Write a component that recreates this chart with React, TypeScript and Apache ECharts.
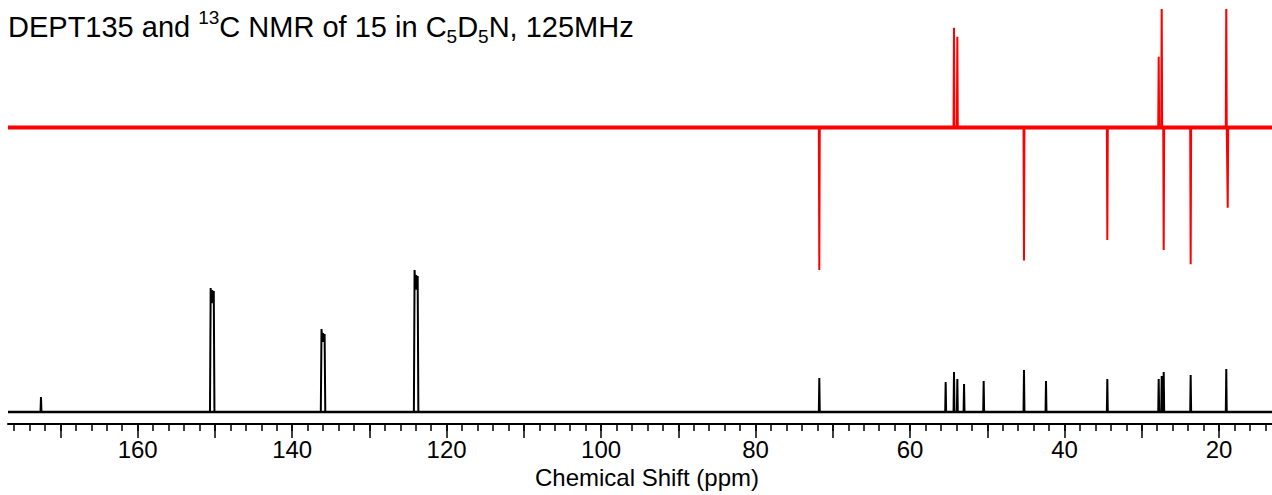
import React, { useEffect, useRef } from "react";
import * as echarts from "echarts";

// Axis range (ppm), reversed as in NMR convention
const PPM_LEFT = 176.79;
const PPM_RIGHT = 13.14;

// Tick positions / labels
const LABEL_TICKS = [20, 40, 60, 80, 100, 120, 140, 160];
const MAJOR_TICKS = [20, 30, 40, 50, 60, 70, 80, 90, 100, 110, 120, 130, 140, 150, 160, 170];
const MINOR_TICKS = Array.from({ length: 82 }, (_, i) => 14 + i * 2);

// 13C spectrum (black) – single lines
const C13_PPM = [172.52, 71.75, 55.39, 54.31, 53.88, 53.01, 50.47, 45.25, 42.4, 34.46, 27.81, 27.42, 27.16, 23.67, 19.06];
const C13_INT = [15, 34, 30, 40, 33, 28, 31, 42, 31, 33, 33, 36, 40, 37, 43];

// solvent (C5D5N) triplets in the 13C spectrum
const SOLVENT_PPM = [150.35, 136.0, 123.95];
const SOLVENT_INT = [
  [124, 122, 121],
  [83, 79, 78],
  [142, 137, 136],
];

// DEPT135 spectrum (red): CH/CH3 up, CH2 down
const DEPT_PPM = [71.75, 54.31, 53.88, 45.25, 34.46, 27.81, 27.42, 27.16, 23.67, 19.06, 18.87];
const DEPT_INT = [-142.5, 99.8, 90.8, -133, -112.5, 70.8, 125, -122.5, -136.8, 125, -80.2];

// vertical offsets of the two traces (plot units)
const C13_BASE = 12;
const DEPT_BASE = 296.5;

const LINE_HALF = 0.06; // half width of a line (ppm)
const TRIPLET_J = 0.2; // C-D splitting (ppm)

type Pt = [number, number];

function singleShape(p: number, h: number): Pt[] {
  return [
    [p + LINE_HALF, 0],
    [p, h],
    [p - LINE_HALF, 0],
  ];
}

function tripletShape(p: number, hs: number[]): Pt[] {
  const v = Math.min(...hs) * 0.9;
  return [
    [p + TRIPLET_J + LINE_HALF * 1.5, 0],
    [p + TRIPLET_J, hs[0]],
    [p + TRIPLET_J / 2, v],
    [p, hs[1]],
    [p - TRIPLET_J / 2, v],
    [p - TRIPLET_J, hs[2]],
    [p - TRIPLET_J - LINE_HALF * 1.5, 0],
  ];
}

function buildTrace(shapes: Pt[][], base: number): Pt[] {
  const sorted = shapes.slice().sort((a, b) => b[0][0] - a[0][0]);
  const out: Pt[] = [[PPM_LEFT, base]];
  sorted.forEach((s) => s.forEach(([x, y]) => out.push([x, y + base])));
  out.push([PPM_RIGHT, base]);
  return out;
}

export default function App() {
  const ref = useRef<HTMLDivElement>(null);

  useEffect(() => {
    if (!ref.current) return;
    const chart = echarts.init(ref.current, null, { renderer: "svg" });

    const c13Shapes: Pt[][] = [
      ...C13_PPM.map((p, i) => singleShape(p, C13_INT[i])),
      ...SOLVENT_PPM.map((p, i) => tripletShape(p, SOLVENT_INT[i])),
    ];
    const deptShapes: Pt[][] = DEPT_PPM.map((p, i) => singleShape(p, DEPT_INT[i]));

    const c13Data = buildTrace(c13Shapes, C13_BASE);
    const deptData = buildTrace(deptShapes, DEPT_BASE);

    const font = "Liberation Sans, Arial, sans-serif";

    chart.setOption({
      animation: false,
      backgroundColor: "#ffffff",
      title: {
        left: 8,
        top: 8,
        padding: 0,
        text:
          "{a|DEPT135 and }{sup|13}{a|C NMR of 15 in C}{sub|5}{a|D}{sub|5}{a|N, 125MHz}",
        textStyle: {
          fontFamily: font,
          fontWeight: "normal",
          color: "#000",
          rich: {
            a: { fontSize: 29, lineHeight: 38, verticalAlign: "middle", fontFamily: font, color: "#000" },
            sup: { fontSize: 19, lineHeight: 19, verticalAlign: "top", fontFamily: font, color: "#000" },
            sub: { fontSize: 19, lineHeight: 19, verticalAlign: "bottom", fontFamily: font, color: "#000" },
          },
        },
      },
      grid: { left: 8, right: 0, top: 10, bottom: 71, containLabel: false },
      xAxis: [
        {
          type: "value",
          min: PPM_RIGHT,
          max: PPM_LEFT,
          inverse: true,
          position: "bottom",
          axisLine: { show: true, lineStyle: { color: "#000", width: 2 } },
          axisTick: {
            show: true,
            customValues: MAJOR_TICKS,
            length: 14,
            lineStyle: { color: "#000", width: 1.5 },
          },
          axisLabel: {
            show: true,
            customValues: LABEL_TICKS,
            fontSize: 24,
            fontFamily: font,
            color: "#000",
            margin: 13,
          },
          splitLine: { show: false },
          name: "Chemical Shift (ppm)",
          nameLocation: "middle",
          nameGap: 40,
          nameTextStyle: {
            fontSize: 24,
            fontFamily: font,
            color: "#000",
            padding: [0, 0, 0, 14],
          },
        },
        {
          type: "value",
          min: PPM_RIGHT,
          max: PPM_LEFT,
          inverse: true,
          position: "bottom",
          axisLine: { show: false },
          axisTick: {
            show: true,
            customValues: MINOR_TICKS,
            length: 7,
            lineStyle: { color: "#000", width: 1.5 },
          },
          axisLabel: { show: false },
          splitLine: { show: false },
        },
      ],
      yAxis: {
        type: "value",
        min: 0,
        max: 414,
        show: false,
        splitLine: { show: false },
      },
      series: [
        {
          name: "DEPT135 baseline",
          type: "line",
          data: [
            [PPM_LEFT, DEPT_BASE],
            [PPM_RIGHT, DEPT_BASE],
          ],
          showSymbol: false,
          symbol: "none",
          lineStyle: { color: "#ff0000", width: 4 },
          silent: true,
        },
        {
          name: "DEPT135",
          type: "line",
          data: deptData,
          showSymbol: false,
          symbol: "none",
          clip: true,
          lineStyle: { color: "#ff0000", width: 2 },
          silent: true,
        },
        {
          name: "13C baseline",
          type: "line",
          data: [
            [PPM_LEFT, C13_BASE],
            [PPM_RIGHT, C13_BASE],
          ],
          showSymbol: false,
          symbol: "none",
          lineStyle: { color: "#000", width: 2.5 },
          silent: true,
        },
        {
          name: "13C",
          type: "line",
          data: c13Data,
          showSymbol: false,
          symbol: "none",
          clip: true,
          lineStyle: { color: "#000", width: 2 },
          silent: true,
        },
      ],
    });

    return () => chart.dispose();
  }, []);

  return (
    <div
      ref={ref}
      style={{ position: "absolute", left: 0, top: 0, width: 1272, height: 495 }}
    />
  );
}
